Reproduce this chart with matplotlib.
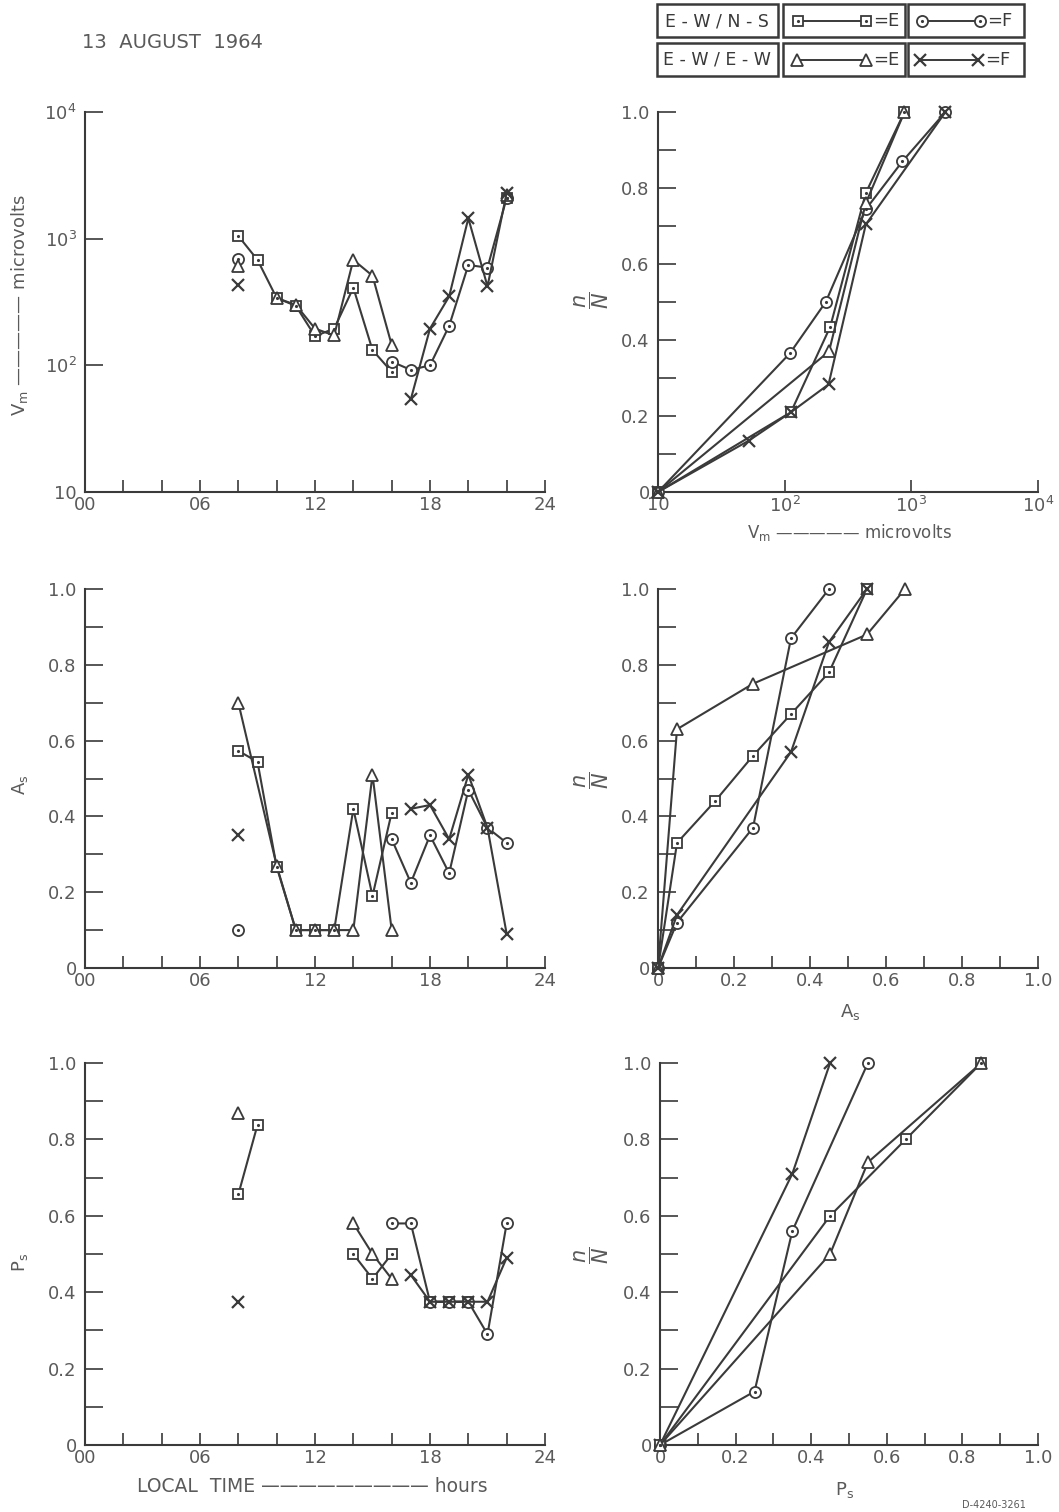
import numpy as np
import matplotlib
matplotlib.use("Agg")
import matplotlib.pyplot as plt
from matplotlib.lines import Line2D
from matplotlib.patches import Rectangle
from matplotlib.ticker import FixedLocator, NullLocator, MultipleLocator

nan = np.nan
INK = "#3a3a3a"
TXT = "#5a5a5a"

# ---- Vm vs local time (top left) ----
vm_sq_h = [8, 9, 10, 11, 12, 13, 14, 15, 16, 17, 22]
vm_sq = [1050, 680, 340, 295, 170, 195, 410, 132, 89, nan, 2100]
vm_ci_h = [8, 9, 16, 17, 18, 19, 20, 21, 22]
vm_ci = [690, nan, 107, 92, 100, 205, 620, 590, 2100]
vm_tr_h = [8, 9, 10, 11, 12, 13, 14, 15, 16, 17, 22]
vm_tr = [610, nan, 340, 300, 195, 172, 680, 510, 145, nan, 2200]
vm_x_h = [8, 9, 17, 18, 19, 20, 21, 22]
vm_x = [430, nan, 54, 195, 350, 1450, 420, 2300]

# ---- cumulative n/N vs Vm (top right) ----
cvm_sq_x = [10, 112, 229, 437, 883]
cvm_sq_y = [0, 0.21, 0.435, 0.787, 1.0]
cvm_ci_x = [10, 110, 211, 437, 850, 1860]
cvm_ci_y = [0, 0.365, 0.50, 0.744, 0.87, 1.0]
cvm_tr_x = [10, 224, 437, 883]
cvm_tr_y = [0, 0.37, 0.76, 1.0]
cvm_x_x = [10, 52, 112, 222, 437, 1860]
cvm_x_y = [0, 0.135, 0.21, 0.283, 0.704, 1.0]

# ---- As vs local time (middle left) ----
as_sq_h = [8, 9, 10, 11, 12, 13, 14, 15, 16]
as_sq = [0.573, 0.544, 0.267, 0.10, 0.10, 0.10, 0.42, 0.19, 0.41]
as_tr_h = [8, 10, 11, 12, 13, 14, 15, 16]
as_tr = [0.70, 0.27, 0.10, 0.10, 0.10, 0.10, 0.51, 0.10]
as_ci_h = [8, 9, 16, 17, 18, 19, 20, 21, 22]
as_ci = [0.10, nan, 0.34, 0.225, 0.35, 0.25, 0.47, 0.37, 0.33]
as_x_h = [8, 9, 17, 18, 19, 20, 21, 22]
as_x = [0.35, nan, 0.42, 0.43, 0.34, 0.51, 0.37, 0.09]

# ---- cumulative n/N vs As (middle right) ----
cas_ci_x = [0, 0.05, 0.25, 0.35, 0.45]
cas_ci_y = [0, 0.12, 0.37, 0.87, 1.0]
cas_sq_x = [0, 0.05, 0.15, 0.25, 0.35, 0.45, 0.55]
cas_sq_y = [0, 0.33, 0.44, 0.56, 0.67, 0.78, 1.0]
cas_tr_x = [0, 0.05, 0.25, 0.55, 0.65]
cas_tr_y = [0, 0.63, 0.75, 0.88, 1.0]
cas_x_x = [0, 0.05, 0.35, 0.45, 0.55]
cas_x_y = [0, 0.14, 0.57, 0.86, 1.0]

# ---- Ps vs local time (bottom left) ----
ps_sq_h = [8, 9, 10, 14, 15, 16, 17, 18, 19, 20]
ps_sq = [0.656, 0.838, nan, 0.50, 0.435, 0.50, nan, 0.375, 0.375, 0.375]
ps_tr_h = [8, 9, 14, 15, 16]
ps_tr = [0.868, nan, 0.58, 0.50, 0.435]
ps_ci_h = [16, 17, 18, 19, 20, 21, 22]
ps_ci = [0.58, 0.58, 0.375, 0.375, 0.375, 0.29, 0.58]
ps_x_h = [8, 9, 17, 18, 19, 20, 21, 22]
ps_x = [0.375, nan, 0.445, 0.375, 0.375, 0.375, 0.375, 0.49]

# ---- cumulative n/N vs Ps (bottom right) ----
cps_x_x = [0, 0.35, 0.45]
cps_x_y = [0, 0.71, 1.0]
cps_ci_x = [0, 0.25, 0.35, 0.55]
cps_ci_y = [0, 0.14, 0.56, 1.0]
cps_sq_x = [0, 0.45, 0.65, 0.85]
cps_sq_y = [0, 0.60, 0.80, 1.0]
cps_tr_x = [0, 0.45, 0.55, 0.85]
cps_tr_y = [0, 0.50, 0.74, 1.0]

hour_ticks = [0, 6, 12, 18, 24]
hour_labels = ["00", "06", "12", "18", "24"]
frac_ticks = [0, 0.2, 0.4, 0.6, 0.8, 1.0]
frac_labels = ["0", "0.2", "0.4", "0.6", "0.8", "1.0"]
dec_ticks = [10, 100, 1000, 10000]
dec_labels = ["10", "$10^2$", "$10^3$", "$10^4$"]

plt.rcParams["font.family"] = ["DejaVu Sans"]
plt.rcParams["mathtext.fontset"] = "dejavusans"

W, H = 1059, 1512
fig = plt.figure(figsize=(W / 100, H / 100), dpi=100)


def px(x, y):
    return x / W, 1 - y / H


def box(x0, y0, x1, y1):
    return [x0 / W, 1 - y1 / H, (x1 - x0) / W, (y1 - y0) / H]


STYLE = {
    "sq": dict(marker="s", ms=7.5, mew=1.3),
    "ci": dict(marker="o", ms=8, mew=1.3),
    "tr": dict(marker="^", ms=8.5, mew=1.3),
    "x": dict(marker="x", ms=8, mew=1.6),
}


def draw(ax, x, y, kind):
    st = STYLE[kind]
    ax.plot(x, y, color=INK, lw=1.5, mfc="white", mec=INK, clip_on=False,
            zorder=3, **st)
    if kind in ("sq", "ci"):
        ax.plot(x, y, ls="none", marker=".", ms=2.5, color=INK,
                clip_on=False, zorder=4)


def style_axes(ax):
    for s in ("top", "right"):
        ax.spines[s].set_visible(False)
    for s in ("left", "bottom"):
        ax.spines[s].set_color(INK)
        ax.spines[s].set_linewidth(1.5)
    ax.tick_params(which="both", direction="in", color=INK, width=1.2,
                   labelcolor=TXT, labelsize=13)
    ax.tick_params(axis="y", which="both", length=13, pad=6)
    ax.tick_params(axis="x", which="both", length=9, pad=3)


def time_axis(ax):
    ax.set_xlim(0, 24)
    ax.set_xticks(hour_ticks)
    ax.set_xticklabels(hour_labels)
    ax.xaxis.set_minor_locator(MultipleLocator(2))


def frac_y(ax):
    ax.set_ylim(0, 1)
    ax.set_yticks(frac_ticks)
    ax.set_yticklabels(frac_labels)
    ax.yaxis.set_minor_locator(MultipleLocator(0.1))


def frac_x(ax):
    ax.set_xlim(0, 1)
    ax.set_xticks(frac_ticks)
    ax.set_xticklabels(frac_labels)
    ax.xaxis.set_minor_locator(MultipleLocator(0.1))


LX0, LX1 = 85, 545
RX0, RX1 = 658, 1038
rows = [(112, 492), (589, 968), (1063, 1445)]

# top left
ax = fig.add_axes(box(LX0, rows[0][0], LX1, rows[0][1]))
style_axes(ax)
ax.set_yscale("log")
ax.set_ylim(10, 1e4)
ax.yaxis.set_major_locator(FixedLocator(dec_ticks))
ax.set_yticklabels(dec_labels)
ax.yaxis.set_minor_locator(NullLocator())
time_axis(ax)
draw(ax, vm_sq_h, vm_sq, "sq")
draw(ax, vm_ci_h, vm_ci, "ci")
draw(ax, vm_tr_h, vm_tr, "tr")
draw(ax, vm_x_h, vm_x, "x")

# top right
ax = fig.add_axes(box(RX0, rows[0][0], RX1, rows[0][1]))
style_axes(ax)
ax.set_xscale("log")
ax.set_xlim(10, 1e4)
ax.xaxis.set_major_locator(FixedLocator(dec_ticks))
ax.set_xticklabels(dec_labels)
ax.xaxis.set_minor_locator(NullLocator())
frac_y(ax)
draw(ax, cvm_sq_x, cvm_sq_y, "sq")
draw(ax, cvm_ci_x, cvm_ci_y, "ci")
draw(ax, cvm_tr_x, cvm_tr_y, "tr")
draw(ax, cvm_x_x, cvm_x_y, "x")

# middle left
ax = fig.add_axes(box(LX0, rows[1][0], LX1, rows[1][1]))
style_axes(ax)
time_axis(ax)
frac_y(ax)
draw(ax, as_sq_h, as_sq, "sq")
draw(ax, as_tr_h, as_tr, "tr")
draw(ax, as_ci_h, as_ci, "ci")
draw(ax, as_x_h, as_x, "x")

# middle right
ax = fig.add_axes(box(RX0, rows[1][0], RX1, rows[1][1]))
style_axes(ax)
frac_x(ax)
frac_y(ax)
draw(ax, cas_ci_x, cas_ci_y, "ci")
draw(ax, cas_sq_x, cas_sq_y, "sq")
draw(ax, cas_tr_x, cas_tr_y, "tr")
draw(ax, cas_x_x, cas_x_y, "x")

# bottom left
ax = fig.add_axes(box(LX0, rows[2][0], LX1, rows[2][1]))
style_axes(ax)
time_axis(ax)
frac_y(ax)
draw(ax, ps_sq_h, ps_sq, "sq")
draw(ax, ps_tr_h, ps_tr, "tr")
draw(ax, ps_ci_h, ps_ci, "ci")
draw(ax, ps_x_h, ps_x, "x")

# bottom right
ax = fig.add_axes(box(RX0 + 2, rows[2][0], RX1, rows[2][1]))
style_axes(ax)
frac_x(ax)
frac_y(ax)
draw(ax, cps_x_x, cps_x_y, "x")
draw(ax, cps_ci_x, cps_ci_y, "ci")
draw(ax, cps_sq_x, cps_sq_y, "sq")
draw(ax, cps_tr_x, cps_tr_y, "tr")

# labels
fig.text(*px(20, 305), r"V$_\mathrm{m}$ ————— microvolts", rotation=90,
         ha="center", va="center", color=TXT, fontsize=13)
fig.text(*px(20, 785), r"A$_\mathrm{s}$", rotation=90, ha="center",
         va="center", color=TXT, fontsize=13)
fig.text(*px(20, 1262), r"P$_\mathrm{s}$", rotation=90, ha="center",
         va="center", color=TXT, fontsize=13)
for yc in (300, 780, 1255):
    fig.text(*px(592, yc), r"$\dfrac{n}{N}$", rotation=90, ha="center",
             va="center", color=TXT, fontsize=15)
fig.text(*px(850, 533), r"V$_\mathrm{m}$ ————— microvolts", ha="center",
         va="center", color=TXT, fontsize=12)
fig.text(*px(850, 1012), r"A$_\mathrm{s}$", ha="center", va="center",
         color=TXT, fontsize=13)
fig.text(*px(845, 1490), r"P$_\mathrm{s}$", ha="center", va="center",
         color=TXT, fontsize=13)
fig.text(*px(312, 1486), "LOCAL  TIME ————————— hours", ha="center",
         va="center", color=TXT, fontsize=13.5)
fig.text(*px(82, 42), "13  AUGUST  1964", ha="left", va="center",
         color=TXT, fontsize=14)
fig.text(*px(962, 1505), "D-4240-3261", ha="left", va="center",
         color=TXT, fontsize=7)

# legend table
cells = [(657, 778), (783, 905), (908, 1024)]
rows_leg = [(4, 37), (43, 76)]
for (y0, y1) in rows_leg:
    for (x0, x1) in cells:
        fig.add_artist(Rectangle(px(x0, y1), (x1 - x0) / W, (y1 - y0) / H,
                                 transform=fig.transFigure, fill=False,
                                 ec=INK, lw=1.8))
fig.text(*px(717, 21), "E - W / N - S", ha="center", va="center",
         color=INK, fontsize=12.5)
fig.text(*px(717, 60), "E - W / E - W", ha="center", va="center",
         color=INK, fontsize=12.5)


def leg_line(x0, x1, y, kind, lab):
    a, b = px(x0, y)
    c, _ = px(x1, y)
    st = STYLE[kind]
    fig.add_artist(Line2D([a, c], [b, b], transform=fig.transFigure,
                          color=INK, lw=1.4, mfc="white", mec=INK, **st))
    if kind in ("sq", "ci"):
        fig.add_artist(Line2D([a, c], [b, b], transform=fig.transFigure,
                              ls="none", marker=".", ms=2.5, color=INK))
    fig.text(*px(x1 + 7, y), lab, ha="left", va="center", color=INK,
             fontsize=13)


leg_line(798, 866, 21, "sq", "=E")
leg_line(922, 980, 21, "ci", "=F")
leg_line(797, 866, 60, "tr", "=E")
leg_line(920, 978, 60, "x", "=F")

fig.savefig("out.png", dpi=100, facecolor="white")
